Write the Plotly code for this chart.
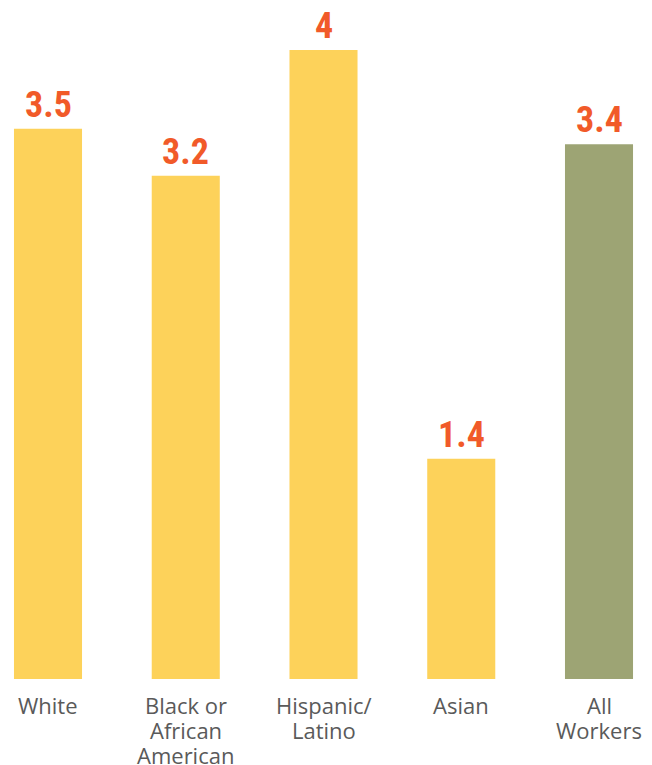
import plotly.graph_objects as go

categories = ["White", "Black or<br>African<br>American", "Hispanic/<br>Latino", "Asian", "All<br>Workers"]
values = [3.5, 3.2, 4.0, 1.4, 3.4]
value_labels = ["3.5", "3.2", "4", "1.4", "3.4"]
colors = ["#FDD25A", "#FDD25A", "#FDD25A", "#FDD25A", "#9DA474"]

fig = go.Figure()
fig.add_trace(go.Bar(x=list(range(len(categories))), y=values, marker=dict(color=colors, line=dict(width=0)),
                     width=0.494, hoverinfo="skip"))

for i, (v, t) in enumerate(zip(values, value_labels)):
    fig.add_annotation(x=i, y=v, text=t, showarrow=False, yanchor="bottom", yshift=1,
                       font=dict(family="Liberation Sans Narrow, Roboto Condensed, Arial Narrow, sans-serif",
                                 size=36, color="#F15A29", weight="bold"))

# category labels, one annotation per line for tight line spacing
for i, cat in enumerate(categories):
    for j, line in enumerate(cat.split("<br>")):
        fig.add_annotation(x=i, y=0, text=line, showarrow=False, yanchor="top", yshift=-9 - 25 * j,
                           font=dict(family="Open Sans, sans-serif", size=22, color="#5A5A5A"))

fig.update_layout(
    width=644, height=757,
    margin=dict(l=0, r=0, t=42, b=86, autoexpand=False),
    plot_bgcolor="white", paper_bgcolor="white",
    showlegend=False,
    xaxis=dict(range=[-0.2904, 4.3847], showticklabels=False, showgrid=False, zeroline=False,
               showline=False, automargin=False, fixedrange=True),
    yaxis=dict(range=[0, 4], visible=False, showgrid=False, zeroline=False, automargin=False),
)

fig.write_html("out.html")
